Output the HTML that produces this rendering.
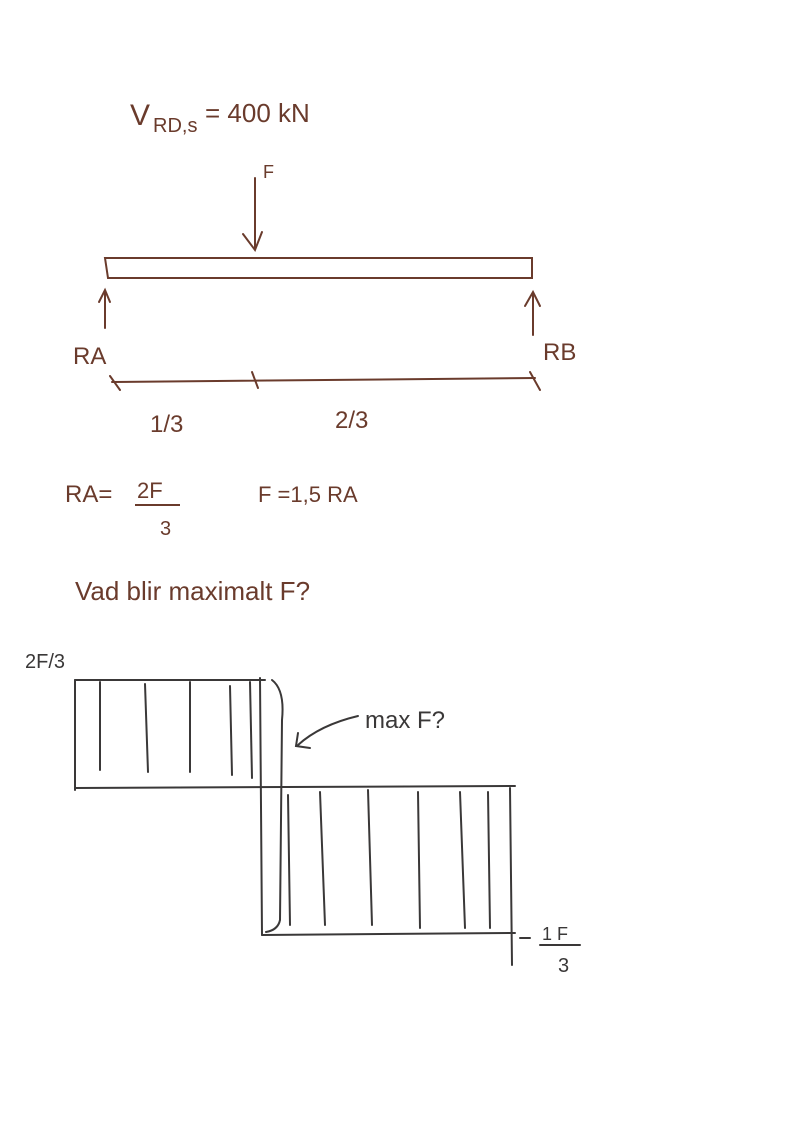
<!DOCTYPE html>
<html><head><meta charset="utf-8"><style>
html,body{margin:0;padding:0;background:#fff;}
svg{display:block;}
text{font-family:"Liberation Sans",sans-serif;}
</style></head><body>
<svg width="800" height="1137" viewBox="0 0 800 1137" xmlns="http://www.w3.org/2000/svg">
<g fill="none" stroke="#6a3b2c" stroke-width="2" stroke-linecap="round">
  <!-- F arrow -->
  <path d="M255 178 L255 248"/><path d="M243 234 L255 250 L262 232"/>
  <!-- beam -->
  <path d="M105 258 L532 258 L532 278 L108 278 Z"/>
  <!-- RA arrow -->
  <path d="M105 328 L105 293"/><path d="M99 302 L105 290 L110 302"/>
  <!-- RB arrow -->
  <path d="M533 335 L533 295"/><path d="M525 306 L533 292 L540 306"/>
  <!-- dimension line -->
  <path d="M112 382 L535 378"/>
  <path d="M110 376 L120 390"/><path d="M252 372 L258 388"/><path d="M530 372 L540 390"/>
</g>
<g fill="#6a3b2c" font-size="24">
  <text x="130" y="125" font-size="30">V</text>
  <text x="153" y="132" font-size="20">RD,s</text>
  <text x="205" y="122" font-size="26">= 400 kN</text>
  <text x="263" y="178" font-size="18">F</text>
  <text x="73" y="364">RA</text>
  <text x="543" y="360">RB</text>
  <text x="150" y="432">1/3</text>
  <text x="335" y="428">2/3</text>
  <text x="65" y="502">RA=</text>
  <text x="137" y="498" font-size="22">2F</text>
  <line x1="135" y1="505" x2="180" y2="505" stroke="#6a3b2c" stroke-width="2"/>
  <text x="160" y="535" font-size="20">3</text>
  <text x="258" y="502" font-size="22">F =1,5 RA</text>
  <text x="75" y="600" font-size="26">Vad blir maximalt F?</text>
</g>
<g fill="none" stroke="#3a3838" stroke-width="2" stroke-linecap="round">
  <path d="M75 680 L265 680"/>
  <path d="M75 680 L75 790"/>
  <path d="M75 788 L515 786"/>
  <path d="M260 678 L262 935"/>
  <path d="M262 935 L515 933"/>
  <path d="M510 788 L512 965"/>
  <path d="M272 680 Q285 690 282 720 L280 920 Q278 930 266 932"/>
  <path d="M100 682 L100 770"/><path d="M145 684 L148 772"/><path d="M190 682 L190 772"/><path d="M230 686 L232 775"/><path d="M250 682 L252 778"/>
  <path d="M288 795 L290 925"/><path d="M320 792 L325 925"/><path d="M368 790 L372 925"/><path d="M418 792 L420 928"/><path d="M460 792 L465 928"/><path d="M488 792 L490 928"/>
  <path d="M358 716 Q320 725 298 745"/><path d="M298 733 L296 746 L310 748"/>
  <path d="M520 938 L530 938"/>
  <line x1="540" y1="945" x2="580" y2="945"/>
</g>
<g fill="#3a3838">
  <text x="25" y="668" font-size="20">2F/3</text>
  <text x="365" y="728" font-size="24">max F?</text>
  <text x="542" y="940" font-size="18">1 F</text>
  <text x="558" y="972" font-size="20">3</text>
</g>
</svg>
</body></html>
